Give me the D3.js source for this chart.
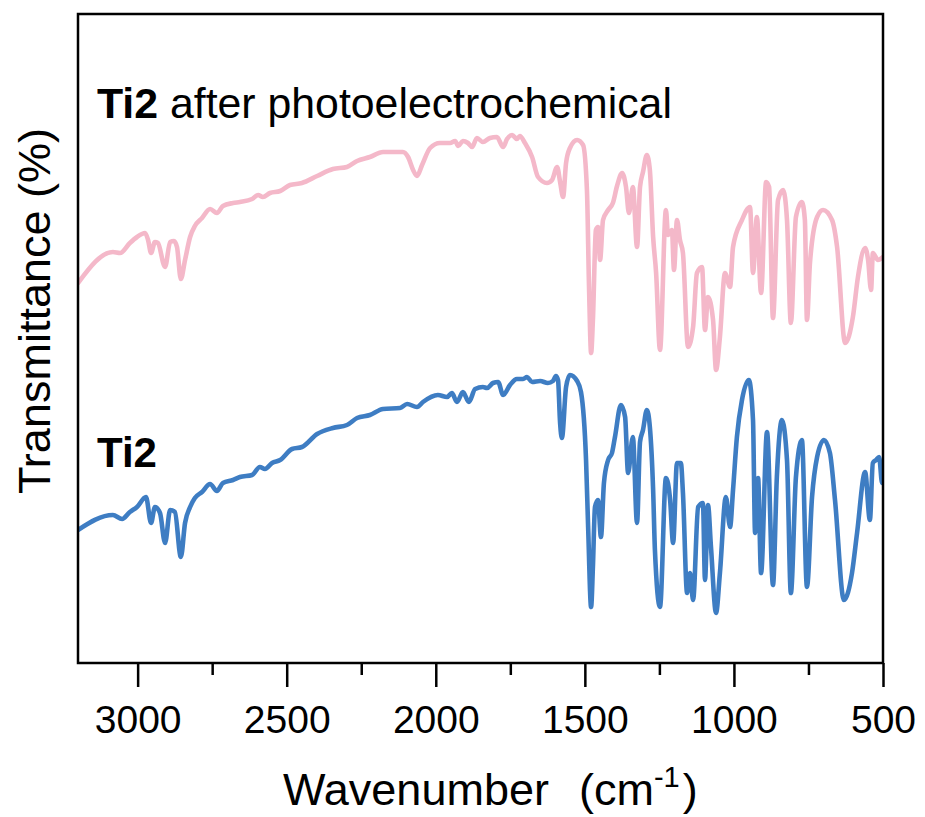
<!DOCTYPE html>
<html>
<head>
<meta charset="utf-8">
<script src="https://cdn.jsdelivr.net/npm/d3@7"></script>
<style>
  html, body { margin: 0; padding: 0; background: #fff; }
  svg { display: block; }
  text { font-family: "Liberation Sans", Arial, sans-serif; fill: #000; }
</style>
</head>
<body>
<svg id="chart" width="925" height="817"></svg>
<script>
// ---------- data (wavenumber in cm-1, transmittance in a.u.) ----------
const afterWavenumber = [3200,3083,3059,3026,3002,2975,2965,2955,2942,2932,2908,2891,2878,2868,2855,2841,2824,2808,2784,2757,2734,2714,2680,2657,2616,2596,2580,2556,2522,2489,2449,2398,2345,2298,2264,2221,2177,2110,2093,2076,2063,2046,2019,1986,1952,1935,1925,1909,1892,1878,1862,1842,1818,1795,1774,1761,1744,1728,1718,1701,1677,1657,1627,1610,1593,1583,1573,1563,1550,1526,1506,1493,1486,1479,1473,1463,1456,1449,1439,1422,1406,1392,1375,1362,1352,1339,1325,1315,1305,1292,1282,1271,1261,1248,1228,1221,1208,1201,1191,1181,1171,1154,1137,1124,1107,1097,1087,1070,1060,1047,1030,1013,1003,973,946,936,923,909,892,882,869,852,835,822,809,792,772,762,755,745,721,701,671,654,627,601,584,560,550,540,534,517,500];
const afterTransmittance = [76.0,82.2,82.0,84.0,85.2,86.0,84.6,82.0,84.2,84.0,79.2,84.2,84.4,83.2,76.8,80.6,85.2,87.4,89.0,90.8,90.0,91.4,92.0,92.2,92.8,93.6,93.2,94.0,94.4,95.6,96.0,97.4,98.8,99.2,100.4,101.2,102.2,102.2,101.2,98.6,97.4,99.6,103.0,104.0,104.0,104.4,103.4,104.4,104.0,103.2,105.0,104.2,105.0,105.2,103.2,104.8,105.6,104.8,105.4,104.0,101.2,97.2,96.0,96.6,99.2,96.2,93.2,100.0,103.0,104.6,103.6,94.6,75.2,62.0,68.6,86.6,87.2,80.6,88.6,90.6,92.0,95.4,98.0,95.2,90.0,95.2,83.2,95.2,98.2,101.6,98.6,85.2,78.0,62.6,90.6,85.6,86.6,78.6,88.6,84.6,82.0,63.2,67.2,78.0,79.2,66.6,73.2,68.6,58.6,65.2,78.0,75.2,83.2,88.6,91.2,78.0,89.2,74.0,96.2,95.2,69.0,92.6,94.6,88.6,68.0,89.2,92.2,88.6,68.6,80.0,89.2,90.6,88.6,83.2,64.0,69.2,77.2,83.0,80.6,74.6,82.0,80.6,81.2];

const ti2Wavenumber = [3200,3083,3052,3026,3002,2972,2955,2942,2925,2908,2891,2875,2855,2841,2824,2808,2784,2757,2734,2714,2680,2657,2616,2590,2573,2549,2522,2482,2449,2398,2345,2298,2264,2221,2177,2120,2096,2063,2043,1993,1962,1946,1929,1909,1889,1868,1842,1828,1808,1791,1774,1751,1728,1707,1694,1677,1650,1624,1607,1597,1590,1583,1577,1563,1550,1526,1513,1496,1489,1479,1473,1466,1456,1446,1436,1422,1409,1399,1379,1365,1355,1339,1325,1315,1305,1292,1282,1271,1265,1248,1228,1214,1204,1191,1178,1171,1157,1147,1137,1120,1104,1097,1087,1077,1060,1047,1027,1013,1003,990,973,950,936,929,919,909,889,869,856,839,822,809,792,772,755,738,721,698,678,661,631,604,587,560,544,534,523,513,503,500];
const ti2Transmittance = [26.6,29.6,28.8,30.2,31.2,33.2,28.0,31.2,30.0,24.0,30.6,30.2,21.2,28.0,31.2,33.0,34.2,35.8,34.4,36.0,36.6,37.2,37.6,39.2,38.8,40.0,40.6,42.8,43.2,45.8,47.0,47.6,49.0,49.6,50.8,51.0,51.8,51.2,52.2,53.6,53.2,54.0,52.2,54.2,52.2,54.8,55.2,55.0,56.0,56.2,53.6,55.6,56.8,56.8,57.2,56.2,56.4,56.0,56.4,57.4,56.6,48.0,45.0,55.2,57.6,56.4,54.2,40.6,27.2,11.2,19.2,31.2,32.6,25.2,36.0,40.6,42.0,45.2,51.6,49.2,38.0,45.2,28.0,44.2,46.6,50.6,47.2,34.6,22.6,11.2,37.0,32.6,24.0,40.0,40.0,34.0,14.0,18.0,12.6,31.2,32.0,16.6,31.6,23.2,10.0,18.0,33.2,27.2,34.6,45.2,52.6,56.6,48.6,26.0,37.0,18.0,46.2,15.6,37.2,48.6,40.6,14.0,37.2,44.6,15.2,33.2,41.2,44.6,42.0,32.6,12.6,18.0,26.0,38.2,28.6,40.0,40.6,41.2,36.0,37.0];

const xTicks = [3000, 2500, 2000, 1500, 1000, 500];
const xMinorTicks = [2750, 2250, 1750, 1250, 750];
const xDomain = [3200, 500];
const yDomain = [0, 129.8];

// ---------- layout ----------
const svg = d3.select("#chart");
const plot = { left: 78, right: 883, top: 14, bottom: 663 };

const x = d3.scaleLinear().domain(xDomain).range([plot.left, plot.right]);
const y = d3.scaleLinear().domain(yDomain).range([plot.bottom, plot.top]);

const line = d3.line()
  .x(d => x(d[0]))
  .y(d => y(d[1]))
  .curve(d3.curveMonotoneX);

const afterData = afterWavenumber.map((w, i) => [w, afterTransmittance[i]]);
const ti2Data = ti2Wavenumber.map((w, i) => [w, ti2Transmittance[i]]);

const clipId = "plotclip";
svg.append("clipPath").attr("id", clipId)
  .append("rect")
  .attr("x", plot.left).attr("y", plot.top)
  .attr("width", plot.right - plot.left).attr("height", plot.bottom - plot.top);

const g = svg.append("g").attr("clip-path", `url(#${clipId})`);

g.append("path").datum(afterData)
  .attr("d", line)
  .attr("fill", "none")
  .attr("stroke", "#f4b8c9")
  .attr("stroke-width", 4.6)
  .attr("stroke-linejoin", "round")
  .attr("stroke-linecap", "round");

g.append("path").datum(ti2Data)
  .attr("d", line)
  .attr("fill", "none")
  .attr("stroke", "#3e7dc3")
  .attr("stroke-width", 4.6)
  .attr("stroke-linejoin", "round")
  .attr("stroke-linecap", "round");

// ---------- axes ----------
const xAxis = d3.axisBottom(x)
  .tickValues(xTicks)
  .tickSize(24)
  .tickPadding(18)
  .tickFormat(d3.format("d"));

const xAxisG = svg.append("g")
  .attr("transform", `translate(0,${plot.bottom})`)
  .call(xAxis);
xAxisG.select(".domain").remove();
xAxisG.selectAll(".tick line").attr("stroke", "#000").attr("stroke-width", 2.5);
xAxisG.selectAll(".tick text")
  .attr("font-size", 39)
  .attr("font-family", "'Liberation Sans', Arial, sans-serif")
  .attr("fill", "#000");

const xMinorAxis = d3.axisBottom(x)
  .tickValues(xMinorTicks)
  .tickSize(12)
  .tickFormat("");
const xMinorG = svg.append("g")
  .attr("transform", `translate(0,${plot.bottom})`)
  .call(xMinorAxis);
xMinorG.select(".domain").remove();
xMinorG.selectAll(".tick line").attr("stroke", "#000").attr("stroke-width", 2.5);

// frame
svg.append("rect")
  .attr("x", plot.left).attr("y", plot.top)
  .attr("width", plot.right - plot.left).attr("height", plot.bottom - plot.top)
  .attr("fill", "none")
  .attr("stroke", "#000")
  .attr("stroke-width", 2.5);

// ---------- labels ----------
const xLabel = svg.append("text")
  .attr("x", 283).attr("y", 805)
  .attr("text-anchor", "start")
  .attr("font-size", 45);
xLabel.append("tspan").text("Wavenumber");
xLabel.append("tspan").attr("dx", 30).text("(cm");
xLabel.append("tspan").attr("font-size", 29).attr("dy", -18).text("-1");
xLabel.append("tspan").attr("dy", 18).attr("dx", 3).text(")");

svg.append("text")
  .attr("transform", "translate(50,311) rotate(-90)")
  .attr("text-anchor", "middle")
  .attr("font-size", 45)
  .text("Transmittance (%)");

const t1 = svg.append("text")
  .attr("x", 97).attr("y", 118)
  .attr("font-size", 42.8);
t1.append("tspan").attr("font-weight", "bold").text("Ti2");
t1.append("tspan").text(" after photoelectrochemical");

svg.append("text")
  .attr("x", 97).attr("y", 467)
  .attr("font-size", 42)
  .attr("font-weight", "bold")
  .text("Ti2");
</script>
</body>
</html>
